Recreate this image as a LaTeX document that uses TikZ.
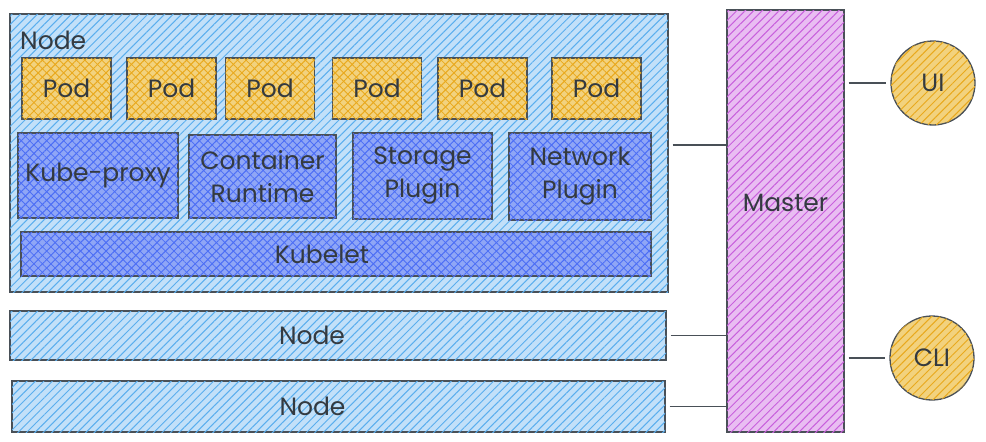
\documentclass[tikz,border=0pt]{standalone}
\usepackage{fontspec}
\setmainfont{Poppins}
\usetikzlibrary{patterns.meta}
\usetikzlibrary{shapes}

\definecolor{inkgray}{HTML}{495057}
\definecolor{textgray}{HTML}{343A40}
\definecolor{nodeblue}{HTML}{5AAEEE}
\definecolor{nodetint}{HTML}{C2E0F9}
\definecolor{partblue}{HTML}{4C6EF5}
\definecolor{parttint}{HTML}{8FA6F6}
\definecolor{podyellow}{HTML}{E9A91C}
\definecolor{podtint}{HTML}{F2D27E}
\definecolor{masterpurple}{HTML}{C860DC}
\definecolor{mastertint}{HTML}{E9BDF2}

\begin{document}
\begin{tikzpicture}[x=1pt,y=-1pt]
					\tikzset{hatch/.style 2 args = {draw=inkgray, line width=1.3pt,
							fill=#2, postaction={pattern={Lines[angle=45,
							distance=6pt, line width=1pt]}, pattern color=#1}}}
					\tikzset{crosshatch/.style 2 args = {hatch={#1}{#2},
							postaction={pattern={Lines[angle=-45,
							distance=6pt, line width=0.8pt]}, pattern color=#1}}}
					\tikzset{box/.style = {shape=rectangle, inner sep = 0pt,
							text=textgray, align=center,
							font=\fontsize{25}{33}\selectfont}}
					\tikzset{pod/.style = {box, crosshatch={podyellow}{podtint},
							minimum width=89pt, minimum height=61pt}}
					\tikzset{part/.style = {box, crosshatch={partblue}{parttint}}}
					\tikzset{ring/.style = {shape=circle, inner sep = 0pt,
							minimum size=84pt, text=textgray,
							font=\fontsize{25}{33}\selectfont,
							hatch={podyellow}{podtint}}}
					\tikzset{link/.style = {draw=inkgray, line width=1.3pt,
							shorten <=4pt}}
					
					\useasboundingbox (0,0) rectangle (986,442);
					
					% nodes
					\node[box, hatch={nodeblue}{nodetint}, minimum width=658pt,
					minimum height=278pt] (bignode) at (339,153) {};
					\node[box, anchor=west] (nodelabel) at (20,40) {Node};
					
					\node[pod] (pod1) at (66.5,88.5) {Pod};
					\node[pod] (pod2) at (171.5,88.5) {Pod};
					\node[pod] (pod3) at (270,88.5) {Pod};
					\node[pod] (pod4) at (377,88.5) {Pod};
					\node[pod] (pod5) at (482.5,88.5) {Pod};
					\node[pod] (pod6) at (596.5,88.5) {Pod};
					
					\node[part, minimum width=160pt, minimum height=85pt]
					(proxy) at (98,175.5) {Kube-proxy};
					\node[part, minimum width=147pt, minimum height=83pt]
					(runtime) at (262.5,176.5) {Container\\Runtime};
					\node[part, minimum width=139pt, minimum height=86pt]
					(storage) at (422.5,176) {Storage\\Plugin};
					\node[part, minimum width=142pt, minimum height=87pt]
					(network) at (580,176.5) {Network\\Plugin};
					\node[part, minimum width=630pt, minimum height=44pt]
					(kubelet) at (336,254) {};
					\node[box] (kubeletlabel) at ([xshift=-14pt]kubelet.center) {Kubelet};
					
					\node[box, hatch={nodeblue}{nodetint}, minimum width=656pt,
					minimum height=49pt] (node2) at (338,335.5) {};
					\node[box] (node2label) at ([xshift=-26pt]node2.center) {Node};
					\node[box, hatch={nodeblue}{nodetint}, minimum width=653pt,
					minimum height=51pt] (node3) at (338.5,406.5) {};
					\node[box] (node3label) at ([xshift=-26pt]node3.center) {Node};
					
					\node[box, hatch={masterpurple}{mastertint}, minimum width=117pt,
					minimum height=422pt] (master) at (785.5,221) {};
					\node[box] (masterlabel) at ([yshift=18pt]master.center) {Master};
					
					\node[ring] (ui) at (933,83) {UI};
					\node[ring] (cli) at (932,358) {CLI};
					
					%edges
					\draw[link] ([yshift=8pt]bignode.east) --
					([yshift=8pt]bignode.east -| master.west);
					\draw[link] (node2.east) -- (node2.east -| master.west);
					\draw[link] (node3.east) -- (node3.east -| master.west);
					\draw[link, shorten >=4pt] (ui.west -| master.east) -- (ui.west);
					\draw[link, shorten >=4pt] (cli.west -| master.east) -- (cli.west);
					
\end{tikzpicture}
\end{document}
